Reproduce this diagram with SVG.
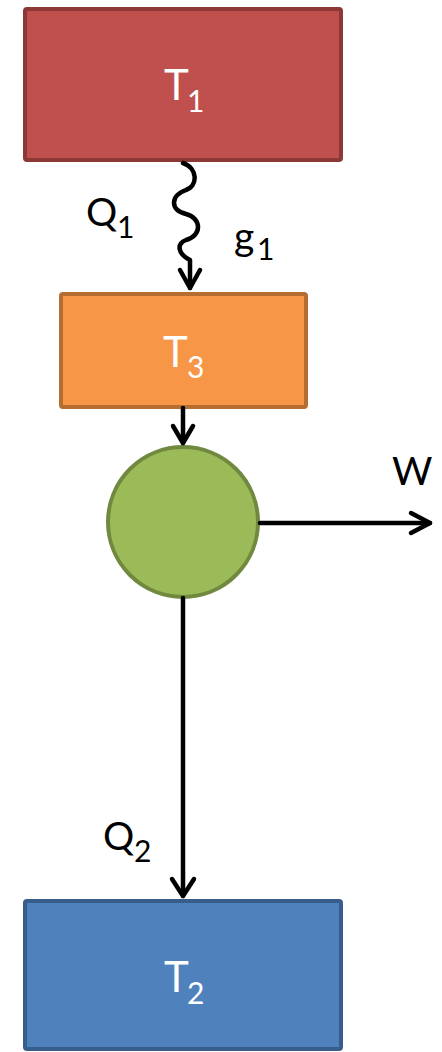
<svg xmlns="http://www.w3.org/2000/svg" width="442" height="1052" viewBox="0 0 442 1052">
<style>
.lbl{font-family:Lato,"Open Sans",sans-serif;}
.w{fill:#fff;}
.k{fill:#000;}
.c{fill:none;stroke:#000;stroke-width:4.5;stroke-linecap:round;stroke-linejoin:round;}
</style>
<g id="T1">
<rect x="25" y="9" width="316" height="151" rx="2" fill="#C0504D" stroke="#8C3836" stroke-width="4"/>
<text class="lbl w" x="164" y="100" font-size="42">T</text>
<text class="lbl w" x="187" y="112" font-size="30">1</text>
</g>
<g id="T3">
<rect x="61" y="294" width="245" height="113" rx="2" fill="#F79646" stroke="#B66D31" stroke-width="4"/>
<text class="lbl w" x="163" y="367" font-size="42">T</text>
<text class="lbl w" x="187" y="378" font-size="30">3</text>
</g>
<g id="engine">
<circle cx="183" cy="522" r="75" fill="#9BBB59" stroke="#71893F" stroke-width="4"/>
</g>
<g id="T2">
<rect x="25" y="901" width="316" height="148" rx="2" fill="#4F81BD" stroke="#385D8A" stroke-width="4"/>
<text class="lbl w" x="164" y="992" font-size="42">T</text>
<text class="lbl w" x="187" y="1004" font-size="30">2</text>
</g>
<g id="connectors">
<path class="c" d="M183 163 C198 168,198 186,186 190 C170 196,170 210,186 214 C202 218,202 236,186 240 C176 244,178 254,190 260 L190 288"/>
<path class="c" d="M180 270 L190 288 L200 270"/>
<path class="c" d="M183 408 L183 443"/>
<path class="c" d="M173 426 L183 443 L193 426"/>
<path class="c" d="M260 523 L430 523"/>
<path class="c" d="M411 513 L430 523 L411 533"/>
<path class="c" d="M183 598 L183 896"/>
<path class="c" d="M172 879 L183 896 L194 879"/>
</g>
<g id="labels">
<text class="lbl k" x="86" y="226" font-size="39">Q</text>
<text class="lbl k" x="117" y="238" font-size="30">1</text>
<text class="lbl k" x="234" y="250" font-size="39">g</text>
<text class="lbl k" x="257" y="260" font-size="30">1</text>
<text class="lbl k" x="392" y="485" font-size="39">W</text>
<text class="lbl k" x="103" y="850" font-size="39">Q</text>
<text class="lbl k" x="134" y="862" font-size="30">2</text>
</g>
</svg>
